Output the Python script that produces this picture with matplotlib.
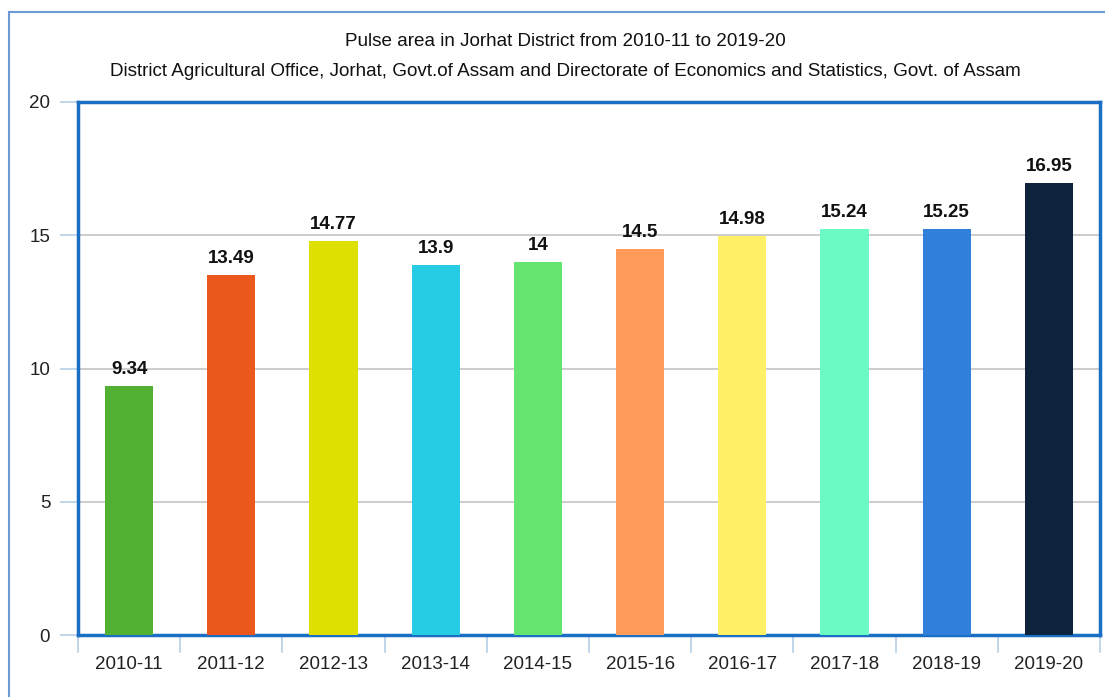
import matplotlib
matplotlib.use("Agg")
import matplotlib.pyplot as plt
from matplotlib.patches import Rectangle

categories = ["2010-11", "2011-12", "2012-13", "2013-14", "2014-15",
              "2015-16", "2016-17", "2017-18", "2018-19", "2019-20"]
values = [9.34, 13.49, 14.77, 13.9, 14, 14.5, 14.98, 15.24, 15.25, 16.95]
labels = ["9.34", "13.49", "14.77", "13.9", "14", "14.5", "14.98", "15.24", "15.25", "16.95"]
colors = ["#52b132", "#ec571c", "#dde000", "#26cce4", "#66e470",
          "#ff9a59", "#fff065", "#6bfac3", "#2f7fdb", "#0e233c"]
yticks = [0, 5, 10, 15, 20]
title1 = "Pulse area in Jorhat District from 2010-11 to 2019-20"
title2 = "District Agricultural Office, Jorhat, Govt.of Assam and Directorate of Economics and Statistics, Govt. of Assam"

plt.rcParams['font.family'] = ['Liberation Sans', 'DejaVu Sans']

W, H = 1105, 697
fig = plt.figure(figsize=(W / 100, H / 100), dpi=100)

# plot area in pixels
left, right, top, bottom = 78, 1100, 102, 635
ax = fig.add_axes([left / W, 1 - bottom / H, (right - left) / W, (bottom - top) / H])

x = list(range(len(categories)))
ax.bar(x, values, width=0.47, color=colors, zorder=3)
for xi, v, lab in zip(x, values, labels):
    ax.text(xi, v + 0.3, lab, ha="center", va="bottom", fontsize=13.5,
            fontweight="bold", color="#111111", zorder=4)

ax.set_xlim(-0.5, len(categories) - 0.5)
ax.set_ylim(0, 20)
ax.set_yticks(yticks)
ax.set_yticklabels([str(t) for t in yticks], fontsize=13.5, color="#222222")
ax.set_xticks(x)
ax.set_xticklabels(categories, fontsize=13.5, color="#222222")
ax.tick_params(axis="x", length=0, pad=15)
ax.tick_params(axis="y", length=13, color="#b8cfe8", width=1.2, pad=7)

# category boundary ticks below the plot
for b in range(len(categories) + 1):
    ax.plot([b - 0.5, b - 0.5], [0, -0.65], color="#b8cfe8", lw=1.2,
            clip_on=False, zorder=1)

for t in yticks[1:-1]:
    ax.axhline(t, color="#c4c4c4", lw=1.2, zorder=1)

for s in ax.spines.values():
    s.set_color("#1a6fc4")
    s.set_linewidth(2.5)

fig.text(565 / W, 1 - 41 / H, title1, ha="center", va="center", fontsize=13.6, color="#111111")
fig.text(565 / W, 1 - 71 / H, title2, ha="center", va="center", fontsize=13.6, color="#111111")

# outer frame
fig.patches.append(Rectangle((9 / W, -0.1), 1.2, 1 - 12 / H + 0.1,
                             transform=fig.transFigure, fill=False,
                             edgecolor="#6c9ad6", lw=1.5))

fig.savefig("out.png", dpi=100)
